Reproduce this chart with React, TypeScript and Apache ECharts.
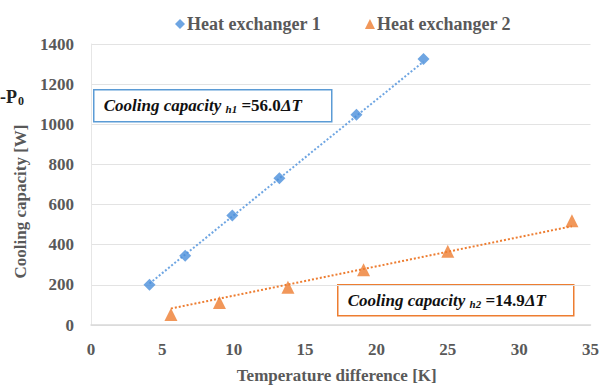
import React, { useEffect, useRef } from "react";
import * as echarts from "echarts";

const seriesNames = ["Heat exchanger 1", "Heat exchanger 2"];
const hx1DeltaT = [4.1, 6.6, 9.9, 13.2, 18.6, 23.3];
const hx1Capacity = [200, 345, 545, 731, 1047, 1325];
const hx2DeltaT = [5.6, 9.0, 13.8, 19.1, 25.0, 33.7];
const hx2Capacity = [52, 112, 188, 275, 367, 520];
const trend1 = [[4.1, 207], [23.3, 1312]];
const trend2 = [[5.6, 82], [33.7, 492]];
const xTicks = { min: 0, max: 35, interval: 5 };
const yTicks = { min: 0, max: 1400, interval: 200 };

const BLUE = "#4a8fdb";
const ORANGE = "#ed7d31";
const GRAY = "#595959";
const SERIF = "'Liberation Serif', 'Times New Roman', serif";

export default function App() {
  const ref = useRef<HTMLDivElement>(null);
  useEffect(() => {
    if (!ref.current) return;
    const chart = echarts.init(ref.current, null, { renderer: "svg" });
    const pts = (xs: number[], ys: number[]) => xs.map((x, i) => [x, ys[i]]);
    const boxText = (fs: number) => ({
      a: { fontFamily: SERIF, fontWeight: "bold", fontStyle: "italic", fontSize: fs, fill: "#111" },
      b: { fontFamily: SERIF, fontWeight: "bold", fontStyle: "italic", fontSize: 11, fill: "#111", padding: [7, 0, 0, 0] },
      c: { fontFamily: SERIF, fontWeight: "bold", fontSize: fs, fill: "#111" },
      d: { fontFamily: SERIF, fontWeight: "bold", fontStyle: "italic", fontSize: fs, fill: "#111" },
    });
    chart.setOption({
      animation: false,
      backgroundColor: "#ffffff",
      textStyle: { fontFamily: SERIF },
      grid: { left: 91, right: 5, top: 44, bottom: 64, containLabel: false },
      legend: {
        data: [
          { name: seriesNames[0], icon: "diamond" },
          { name: seriesNames[1], icon: "triangle" },
        ],
        left: 170,
        top: 10,
        itemWidth: 10,
        itemHeight: 10,
        itemGap: 44,
        textStyle: { fontFamily: SERIF, fontWeight: "bold", fontSize: 18, color: GRAY, padding: [0, 0, 0, -3] },
      },
      xAxis: {
        type: "value",
        min: xTicks.min,
        max: xTicks.max,
        interval: xTicks.interval,
        name: "Temperature difference [K]",
        nameLocation: "middle",
        nameGap: 42,
        nameTextStyle: { fontFamily: SERIF, fontWeight: "bold", fontSize: 17, color: GRAY, padding: [0, 8, 0, 0] },
        axisLine: { show: true, lineStyle: { color: "#d9d9d9", width: 1.5 } },
        axisTick: { show: false },
        splitLine: { show: false },
        axisLabel: { fontFamily: SERIF, fontWeight: "bold", fontSize: 17, color: GRAY, margin: 16 },
      },
      yAxis: {
        type: "value",
        min: yTicks.min,
        max: yTicks.max,
        interval: yTicks.interval,
        name: "Cooling capacity [W]",
        nameLocation: "middle",
        nameGap: 57,
        nameTextStyle: { fontFamily: SERIF, fontWeight: "bold", fontSize: 17, color: GRAY, padding: [0, 34, 0, 0] },
        axisLine: { show: true, lineStyle: { color: "#e6e6e6" } },
        axisTick: { show: false },
        splitLine: { show: true, lineStyle: { color: "#e3e3e3", width: 1 } },
        axisLabel: {
          fontFamily: SERIF,
          fontWeight: "bold",
          fontSize: 17,
          color: GRAY,
          margin: 17,
          formatter: (v: number) => String(v),
        },
      },
      series: [
        {
          name: seriesNames[0],
          type: "scatter",
          symbol: "diamond",
          symbolSize: 12,
          itemStyle: { color: BLUE },
          data: pts(hx1DeltaT, hx1Capacity),
          z: 3,
        },
        {
          name: seriesNames[1],
          type: "scatter",
          symbol: "triangle",
          symbolSize: 13,
          itemStyle: { color: ORANGE },
          data: pts(hx2DeltaT, hx2Capacity),
          z: 3,
        },
        {
          name: "trend1",
          type: "line",
          data: trend1,
          showSymbol: false,
          symbol: "none",
          lineStyle: { color: BLUE, width: 2, type: [2, 2], opacity: 0.8 },
          z: 2,
          silent: true,
        },
        {
          name: "trend2",
          type: "line",
          data: trend2,
          showSymbol: false,
          symbol: "none",
          lineStyle: { color: ORANGE, width: 2, type: [2, 2] },
          z: 2,
          silent: true,
        },
      ],
      graphic: [
        {
          type: "text",
          left: 0,
          top: 88,
          style: {
            text: "{p|-P}{s|0}",
            rich: {
              p: { fontFamily: SERIF, fontWeight: "bold", fontSize: 18, fill: "#222" },
              s: { fontFamily: SERIF, fontWeight: "bold", fontSize: 12, fill: "#222", padding: [8, 0, 0, 1] },
            },
          },
          z: 10,
        },
        {
          type: "group",
          left: 93,
          top: 89,
          children: [
            {
              type: "rect",
              shape: { x: 0, y: 0, width: 238, height: 32 },
              style: { fill: "#fff", stroke: "#5b9bd5", lineWidth: 1.5 },
            },
            {
              type: "text",
              x: 10,
              y: 16,
              style: {
                text: "{a|Cooling capacity }{b|h1}{c| =56.0}{d|ΔT}",
                verticalAlign: "middle",
                rich: boxText(17),
              },
            },
          ],
          z: 10,
        },
        {
          type: "group",
          left: 337,
          top: 284,
          children: [
            {
              type: "rect",
              shape: { x: 0, y: 0, width: 236, height: 31 },
              style: { fill: "#fff", stroke: ORANGE, lineWidth: 1.5 },
            },
            {
              type: "text",
              x: 10,
              y: 16,
              style: {
                text: "{a|Cooling capacity }{b|h2}{c| =14.9}{d|ΔT}",
                verticalAlign: "middle",
                rich: boxText(17),
              },
            },
          ],
          z: 10,
        },
      ],
    });
    return () => chart.dispose();
  }, []);
  return (
    <div
      ref={ref}
      style={{ position: "fixed", left: 0, top: 0, width: 602, height: 389 }}
    />
  );
}
